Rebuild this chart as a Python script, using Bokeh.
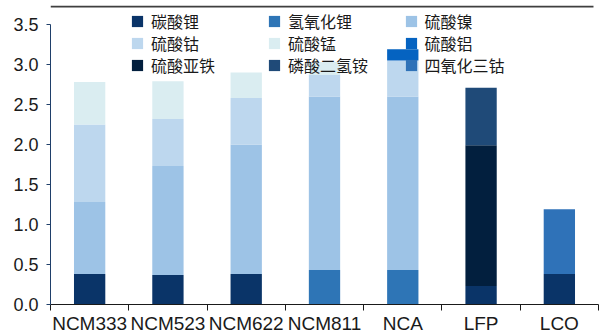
from bokeh.plotting import figure
from bokeh.models import (Range1d, FixedTicker, NumeralTickFormatter, Legend,
                          LegendItem, ColumnDataSource, BoxAnnotation)
from bokeh.embed import file_html
from bokeh.resources import INLINE

# Cathode chemistries
categories = ["NCM333", "NCM523", "NCM622", "NCM811", "NCA", "LFP", "LCO"]

# Raw-material consumption per chemistry (stacked bottom -> top)
li2co3 = [0.38, 0.37, 0.38, 0.00, 0.00, 0.23, 0.38]     # 碳酸锂
lioh = [0.00, 0.00, 0.00, 0.43, 0.43, 0.00, 0.00]       # 氢氧化锂
niso4 = [0.90, 1.36, 1.62, 2.17, 2.17, 0.00, 0.00]      # 硫酸镍
coso4 = [0.97, 0.59, 0.58, 0.27, 0.45, 0.00, 0.00]      # 硫酸钴
mnso4 = [0.53, 0.47, 0.32, 0.16, 0.00, 0.00, 0.00]      # 硫酸锰
al_sulfate = [0.00, 0.00, 0.00, 0.00, 0.14, 0.00, 0.00]  # 硫酸铝
feso4 = [0.00, 0.00, 0.00, 0.00, 0.00, 1.76, 0.00]      # 硫酸亚铁
nh4h2po4 = [0.00, 0.00, 0.00, 0.00, 0.00, 0.72, 0.00]   # 磷酸二氢铵
co3o4 = [0.00, 0.00, 0.00, 0.00, 0.00, 0.00, 0.81]      # 四氧化三钴

series_names = ["碳酸锂", "氢氧化锂", "硫酸镍", "硫酸钴", "硫酸锰",
                "硫酸铝", "硫酸亚铁", "磷酸二氢铵", "四氧化三钴"]
series_keys = ["li2co3", "lioh", "niso4", "coso4", "mnso4",
               "al_sulfate", "feso4", "nh4h2po4", "co3o4"]
series_values = [li2co3, lioh, niso4, coso4, mnso4,
                 al_sulfate, feso4, nh4h2po4, co3o4]
series_colors = ["#0A3468", "#2E75B6", "#9DC3E6", "#BDD7EE", "#DAEDF1",
                 "#0563C1", "#021F3E", "#1F4A78", "#2F72B8"]

y_ticks = [0.0, 0.5, 1.0, 1.5, 2.0, 2.5, 3.0, 3.5]

centers = [i + 0.5 for i in range(len(categories))]
bounds = [float(i) for i in range(len(categories) + 1)]

data = {"x": centers}
for k, v in zip(series_keys, series_values):
    data[k] = v
source = ColumnDataSource(data)

# The plotting frame runs to the top of the canvas (room for the legend);
# the value axis itself stops at 3.5.
y_axis_max = 3.5
y_view_max = 3.8
p = figure(width=600, height=336, x_range=Range1d(0, len(categories)),
           y_range=Range1d(0, y_view_max), output_backend="svg",
           toolbar_location=None, title_location=None,
           min_border_left=50, min_border_right=2,
           min_border_top=0, min_border_bottom=31)
p.grid.visible = False
p.outline_line_color = None
p.background_fill_color = "white"
p.border_fill_color = "white"

renderers = p.vbar_stack(series_keys, x="x", width=0.4, color=series_colors,
                         line_color=None, source=source)

# x axis: labels centred under bars, ticks between categories
xa = p.xaxis[0]
xa.ticker = FixedTicker(ticks=centers, minor_ticks=bounds)
overrides = {}
for c, name in zip(centers, categories):
    overrides[c] = name
    overrides[str(c)] = name
xa.major_label_overrides = overrides
xa.major_tick_in = 0
xa.major_tick_out = 0
xa.minor_tick_in = 0
xa.minor_tick_out = 6
xa.axis_line_color = "#1a1a1a"
xa.minor_tick_line_color = "#1a1a1a"
xa.major_label_standoff = 2
xa.major_label_text_font = "Liberation Sans"
xa.major_label_text_font_size = "19px"
xa.major_label_text_color = "#1a1a1a"

ya = p.yaxis[0]
ya.ticker = FixedTicker(ticks=y_ticks)
ya.bounds = (0, y_axis_max)
ya.formatter = NumeralTickFormatter(format="0.0")
ya.major_tick_in = 0
ya.major_tick_out = 4
ya.minor_tick_line_color = None
ya.axis_line_color = "#1F3F6A"
ya.major_tick_line_color = "#1F3F6A"
ya.major_label_standoff = 8
ya.major_label_text_font = "Liberation Sans"
ya.major_label_text_font_size = "18px"
ya.major_label_text_color = "#1a1a1a"

# legend: 3 x 3 grid in row-major order, one legend box per entry
col_x = [80, 217, 353.5]
row_y = [269, 247, 225]
for idx, (name, r) in enumerate(zip(series_names, renderers)):
    row, col = divmod(idx, 3)
    leg = Legend(items=[LegendItem(label=name, renderers=[r])],
                 location=(col_x[col], row_y[row]), orientation="vertical",
                 padding=0, margin=0, spacing=0, glyph_width=14, glyph_height=14,
                 label_standoff=7, label_height=28,
                 label_text_font="Noto Sans CJK SC", label_text_font_size="16px",
                 label_text_color="#1a1a1a", border_line_color=None,
                 background_fill_alpha=0)
    p.add_layout(leg)

# thin rule along the top edge
p.add_layout(BoxAnnotation(right=6.936, top=3.735, bottom=3.713,
                           fill_color="#3f3f3f", fill_alpha=1,
                           line_color=None, level="overlay"))

open("out.html", "w").write(file_html(p, INLINE))
